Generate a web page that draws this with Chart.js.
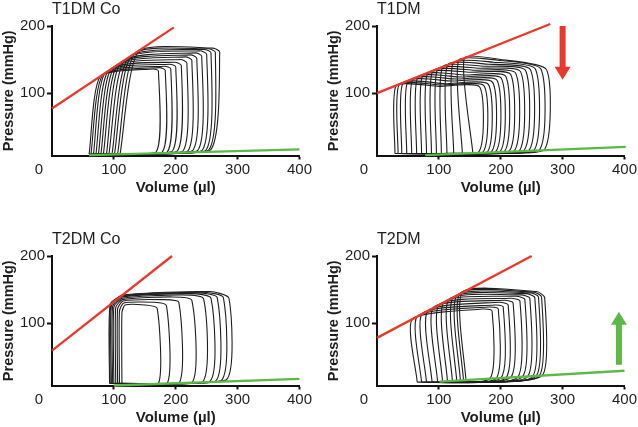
<!DOCTYPE html>
<html><head><meta charset="utf-8">
<script src="https://cdn.jsdelivr.net/npm/chart.js@4.4.1/dist/chart.umd.min.js"></script>
<style>
html,body{margin:0;padding:0;background:#fff;width:638px;height:427px;overflow:hidden}
canvas{position:absolute}
</style></head><body>
<canvas id="c1" width="319" height="197" style="left:0;top:0"></canvas>
<canvas id="c2" width="313" height="197" style="left:325px;top:0"></canvas>
<canvas id="c3" width="319" height="197" style="left:0;top:230px"></canvas>
<canvas id="c4" width="313" height="197" style="left:325px;top:230px"></canvas>
<script>
// ---------- text ----------
const panelTitles = ['T1DM Co', 'T1DM', 'T2DM Co', 'T2DM'];
const xAxisTitle = 'Volume (µl)';
const yAxisTitle = 'Pressure (mmHg)';
const xTickValues = [100, 200, 300, 400];
const yTickValues = [100, 200];
const originLabel = '0';

// ---------- T1DM Co: pressure-volume loops (volume µl, pressure mmHg) ----------
const t1coMinP = 9;
const t1coLbv = [60, 63, 67, 71, 75, 79, 83, 88, 92, 97, 101, 106, 110];
const t1coEdv = [168, 178, 186, 194, 202, 211, 219, 227, 235, 242, 248, 253, 256];
const t1coEdp = [12, 12, 12, 13, 13, 13, 13, 14, 14, 14, 14, 15, 15];
const t1coRtv = [172, 183, 192, 200, 209, 218, 226, 234, 242, 250, 257, 264, 271];
const t1coRtp = [133, 134, 136, 139, 141, 145, 149, 152, 155, 158, 160, 161, 161];
const t1coPkv = [164, 174, 182, 190, 198, 208, 216, 224, 232, 239, 246, 253, 260];
const t1coPkp = [136, 138, 140, 143, 146, 150, 154, 157, 160, 163, 165, 166, 167];
const t1coEsv = [78, 82, 86, 91, 96, 101, 106, 111, 117, 123, 128, 134, 140];
const t1coEsp = [125, 127, 130, 133, 136, 139, 142, 145, 148, 152, 155, 159, 162];
const t1coEspvr = [[0, 77], [197, 198]];
const t1coEdpvr = [[60, 7.5], [400, 16]];

// ---------- T1DM ----------
const t1MinP = 10;
const t1Lbv = [29, 34, 40, 48, 56, 64, 72, 80, 88, 96, 104, 113, 124, 138, 155];
const t1Edv = [163, 170, 177, 184, 191, 198, 205, 213, 221, 229, 237, 245, 253, 262, 270];
const t1Edp = [11, 11, 11, 12, 12, 12, 12, 13, 13, 13, 14, 14, 14, 15, 15];
const t1Rtv = [166, 173, 180, 187, 194, 201, 208, 216, 224, 232, 240, 248, 256, 265, 274];
const t1Rtp = [109, 111, 113, 116, 119, 122, 125, 128, 130, 132, 134, 135, 136, 136, 135];
const t1Pkv = [100, 105, 110, 120, 128, 135, 142, 150, 158, 165, 172, 180, 188, 195, 200];
const t1Pkp = [110, 112, 114, 118, 121, 124, 127, 131, 134, 137, 140, 143, 146, 149, 150];
const t1Esv = [31, 36, 42, 50, 58, 66, 74, 82, 90, 98, 106, 114, 123, 132, 141];
const t1Esp = [111, 113, 115, 118, 121, 124, 127, 130, 133, 136, 139, 142, 145, 149, 152];
const t1Espvr = [[0, 100], [280, 203]];
const t1Edpvr = [[78, 7.5], [402, 20]];
const t1Arrow = [300, 200, 120];   // volume, from pressure, to pressure

// ---------- T2DM Co ----------
const t2coMinP = 10;
const t2coLbv = [113, 109, 106, 103, 100, 98, 96, 94, 93];
const t2coEdv = [172, 186, 205, 226, 243, 255, 264, 273, 281];
const t2coEdp = [10, 10, 10, 11, 12, 13, 13, 14, 15];
const t2coRtv = [170, 185, 205, 226, 245, 257, 267, 277, 286];
const t2coRtp = [122, 126, 131, 134, 136, 137, 138, 138, 137];
const t2coPkv = [150, 165, 180, 195, 210, 225, 235, 245, 255];
const t2coPkp = [127, 131, 135, 139, 142, 144, 145, 146, 147];
const t2coEsv = [118, 116, 115, 114, 114, 114, 115, 115, 116];
const t2coEsp = [127, 130, 133, 135, 137, 139, 140, 141, 142];
const t2coLsv = [113, 109, 106, 103, 100, 98, 96, 95, 94];
const t2coLsp = [115, 118, 121, 123, 124, 125, 126, 127, 128];
const t2coEspvr = [[0, 59], [194, 200]];
const t2coEdpvr = [[100, 7], [400, 17]];

// ---------- T2DM ----------
const t2MinP = 12;
const t2Lbv = [65, 72, 80, 89, 98, 106, 114, 122, 129, 135, 140, 144];
const t2Edv = [182, 192, 200, 208, 216, 227, 235, 243, 251, 257, 262, 267];
const t2Edp = [17, 17, 18, 18, 19, 19, 20, 20, 20, 21, 21, 22];
const t2Rtv = [186, 196, 204, 212, 220, 231, 239, 247, 255, 261, 266, 271];
const t2Rtp = [118, 121, 124, 127, 130, 133, 135, 137, 138, 139, 139, 138];
const t2Pkv = [170, 180, 190, 198, 206, 216, 225, 233, 241, 248, 254, 258];
const t2Pkp = [121, 124, 127, 131, 134, 137, 140, 142, 144, 145, 146, 147];
const t2Esv = [57, 65, 73, 82, 91, 100, 108, 116, 123, 129, 134, 138];
const t2Esp = [106, 110, 114, 118, 123, 127, 131, 135, 138, 141, 144, 146];
const t2Espvr = [[0, 78], [250, 200]];
const t2Edpvr = [[101, 12.7], [400, 29]];
const t2Arrow = [391, 38, 117];

// ---------- styling ----------
const FONT = "'Liberation Sans', Arial, Helvetica, sans-serif";
const INK = '#1e1e1e';
const RED = '#e8392c';
const GREEN = '#5cb947';

function buildLoops(p) {
  const sets = [];
  for (let i = 0; i < p.esv.length; i++) {
    const pts = [
      {x: p.lbv[i], y: p.minP},
      {x: p.edv[i], y: p.edp[i]},
      {x: p.rtv[i], y: p.rtp[i]},
      {x: p.pkv[i], y: p.pkp[i]},
      {x: p.esv[i], y: p.esp[i]}
    ];
    if (p.lsv) pts.push({x: p.lsv[i], y: p.lsp[i]});
    pts.push({x: p.lbv[i], y: p.minP});
    sets.push({data: pts, showLine: true, borderColor: INK, borderWidth: 1.1,
      pointRadius: 0, tension: 0.2, fill: false, clip: false, order: 2});
  }
  return sets;
}
function lineSet(pairs, color) {
  return {data: pairs.map(d => ({x: d[0], y: d[1]})), showLine: true, borderColor: color,
    borderWidth: 2.3, pointRadius: 0, tension: 0, fill: false, clip: false, order: 0};
}

const originPlugin = {
  id: 'originLabel',
  afterDraw(chart) {
    const xs = chart.scales.x, ctx = chart.ctx;
    let y = xs.top + 4 + 2, base = 'top';
    try {
      const items = xs.getLabelItems();
      if (items && items.length) { y = items[0].options.translation[1] + (items[0].textOffset || 0); base = items[0].options.textBaseline || 'top'; }
    } catch (e) {}
    ctx.save();
    ctx.font = '15px ' + FONT; ctx.fillStyle = INK; ctx.textAlign = 'center'; ctx.textBaseline = base;
    ctx.fillText(originLabel, xs.getPixelForValue(0) - 13, y);
    ctx.restore();
  }
};
const arrowPlugin = {
  id: 'arrowMark',
  afterDraw(chart, args, opts) {
    if (!opts || !opts.arrow) return;
    const [v, p0, p1] = opts.arrow;
    const xs = chart.scales.x, ys = chart.scales.y, ctx = chart.ctx;
    const x = xs.getPixelForValue(v), y0 = ys.getPixelForValue(p0), y1 = ys.getPixelForValue(p1);
    const dir = Math.sign(y1 - y0), headLen = 13, headW = 16, shaftW = 6;
    const yb = y1 - dir * headLen;
    ctx.save(); ctx.fillStyle = opts.color;
    ctx.beginPath();
    ctx.moveTo(x - shaftW / 2, y0); ctx.lineTo(x + shaftW / 2, y0);
    ctx.lineTo(x + shaftW / 2, yb); ctx.lineTo(x + headW / 2, yb);
    ctx.lineTo(x, y1); ctx.lineTo(x - headW / 2, yb);
    ctx.lineTo(x - shaftW / 2, yb); ctx.closePath(); ctx.fill();
    ctx.restore();
  }
};

function makePanel(id, title, loops, espvr, edpvr, rightPad, arrow, arrowColor) {
  const datasets = [lineSet(espvr, RED), lineSet(edpvr, GREEN)].concat(buildLoops(loops));
  return new Chart(document.getElementById(id), {
    type: 'scatter',
    data: {datasets},
    plugins: [originPlugin, arrowPlugin],
    options: {
      responsive: false, animation: false, events: [],
      layout: {padding: {left: 0, right: rightPad, top: 0, bottom: 0}},
      plugins: {
        legend: {display: false}, tooltip: {enabled: false},
        title: {display: true, text: title, align: 'start', fullSize: false, color: INK,
          font: {family: FONT, size: 16, weight: 'normal'}, padding: {top: 0, bottom: 6.8}},
        arrowMark: {arrow: arrow, color: arrowColor}
      },
      scales: {
        x: {type: 'linear', min: 0, max: 400,
          afterBuildTicks: s => { s.ticks = xTickValues.map(v => ({value: v})); },
          afterFit: s => { s.height = 41.5; },
          ticks: {font: {family: FONT, size: 15}, color: INK, padding: 1, maxRotation: 0, autoSkip: false},
          grid: {display: true, drawOnChartArea: false, drawTicks: true, tickLength: 4, tickWidth: 2, tickColor: '#111'},
          border: {display: true, color: '#111', width: 2},
          title: {display: true, text: xAxisTitle, color: INK, font: {family: FONT, size: 15, weight: 'bold'}, padding: {top: 0, bottom: 0}}
        },
        y: {type: 'linear', min: 7, max: 200,
          afterBuildTicks: s => { s.ticks = yTickValues.map(v => ({value: v})); },
          afterFit: s => { s.width = 52; },
          ticks: {font: {family: FONT, size: 15}, color: INK, padding: 2},
          grid: {display: true, drawOnChartArea: false, drawTicks: true, tickLength: 5, tickWidth: 2, tickColor: '#111'},
          border: {display: true, color: '#111', width: 2},
          title: {display: true, text: yAxisTitle, color: INK, font: {family: FONT, size: 14.5, weight: 'bold'}, padding: {top: 0, bottom: 0}}
        }
      }
    }
  });
}

makePanel('c1', panelTitles[0],
  {minP: t1coMinP, lbv: t1coLbv, edv: t1coEdv, edp: t1coEdp, rtv: t1coRtv, rtp: t1coRtp, pkv: t1coPkv, pkp: t1coPkp, esv: t1coEsv, esp: t1coEsp},
  t1coEspvr, t1coEdpvr, 19.5, null, null);
makePanel('c2', panelTitles[1],
  {minP: t1MinP, lbv: t1Lbv, edv: t1Edv, edp: t1Edp, rtv: t1Rtv, rtp: t1Rtp, pkv: t1Pkv, pkp: t1Pkp, esv: t1Esv, esp: t1Esp},
  t1Espvr, t1Edpvr, 12, t1Arrow, RED);
makePanel('c3', panelTitles[2],
  {minP: t2coMinP, lbv: t2coLbv, edv: t2coEdv, edp: t2coEdp, rtv: t2coRtv, rtp: t2coRtp, pkv: t2coPkv, pkp: t2coPkp, esv: t2coEsv, esp: t2coEsp, lsv: t2coLsv, lsp: t2coLsp},
  t2coEspvr, t2coEdpvr, 19.5, null, null);
makePanel('c4', panelTitles[3],
  {minP: t2MinP, lbv: t2Lbv, edv: t2Edv, edp: t2Edp, rtv: t2Rtv, rtp: t2Rtp, pkv: t2Pkv, pkp: t2Pkp, esv: t2Esv, esp: t2Esp},
  t2Espvr, t2Edpvr, 12, t2Arrow, GREEN);
</script>
</body></html>
